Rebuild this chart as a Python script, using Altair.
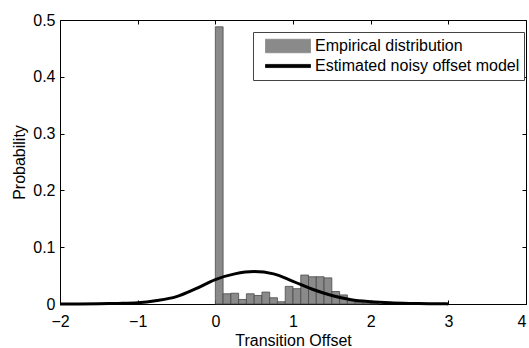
import altair as alt
import pandas as pd

# Histogram (empirical distribution), bin width 0.1
bin_start = [0.0, 0.1, 0.2, 0.3, 0.4, 0.5, 0.6, 0.7, 0.8, 0.9, 1.0,
             1.1, 1.2, 1.3, 1.4, 1.5, 1.6, 1.7, 1.8, 1.9, 2.0]
bin_prob = [0.488, 0.018, 0.019, 0.008, 0.018, 0.015, 0.021, 0.011, 0.004, 0.031, 0.027,
            0.051, 0.048, 0.048, 0.046, 0.022, 0.016, 0.006, 0.003, 0.002, 0.001]
bin_width = 0.1

# Estimated noisy offset model curve
curve_x = [-2.0, -1.75, -1.5, -1.25, -1.0, -0.75, -0.5, -0.25, 0.0, 0.25, 0.5,
           0.75, 1.0, 1.25, 1.5, 1.75, 2.0, 2.25, 2.5, 2.75, 3.0]
curve_y = [0.0, 0.0002, 0.0005, 0.001, 0.002, 0.006, 0.013, 0.027, 0.043, 0.053, 0.057,
           0.053, 0.040, 0.026, 0.015, 0.0075, 0.004, 0.002, 0.001, 0.0005, 0.0002]

x_ticks = [-2, -1, 0, 1, 2, 3, 4]
y_ticks = [0, 0.1, 0.2, 0.3, 0.4, 0.5]
series = ["Empirical distribution", "Estimated noisy offset model"]

bars = pd.DataFrame({
    "start": bin_start,
    "end": [s + bin_width for s in bin_start],
    "prob": bin_prob,
    "series": series[0],
})
curve = pd.DataFrame({"x": curve_x, "y": curve_y, "series": series[1]})

FONT = "Liberation Sans"
FS = 16
W, H = 466, 284
xscale = alt.Scale(domain=[-2, 4], nice=False, zero=False)
yscale = alt.Scale(domain=[0, 0.5], nice=False)

is_emp = "datum.value === 'Empirical distribution'"
color = alt.Color(
    "series:N",
    scale=alt.Scale(domain=series, range=["#8a8a8a", "#000000"]),
    legend=alt.Legend(
        title=None, orient="none", legendX=193, legendY=12,
        symbolType={"expr": f"{is_emp} ? 'M-1,-0.3H1V0.3H-1Z' : 'M-1,-0.07H1V0.07H-1Z'"},
        symbolSize=2025,
        symbolFillColor={"expr": f"{is_emp} ? '#8a8a8a' : 'black'"},
        symbolStrokeColor={"expr": f"{is_emp} ? '#4a4a4a' : 'black'"},
        symbolStrokeWidth=0.8,
        symbolOpacity=1,
        clipHeight=20, rowPadding=0, padding=4, symbolOffset=8,
        labelFont=FONT, labelFontSize=FS, labelColor="black", labelOffset=4,
        labelLimit=300,
        strokeColor="#444", fillColor="white",
    ),
)

bar_layer = alt.Chart(bars).mark_bar(stroke="#4a4a4a", strokeWidth=0.8).encode(
    x=alt.X("start:Q", scale=xscale, axis=alt.Axis(
        orient="bottom", values=x_ticks, ticks=False, tickSize=0, domain=False,
        labelFlush=False, labelOverlap=False,
        labelAlign={"expr": "datum.value == 4 ? 'right' : 'center'"},
        labelPadding=9, labelFont=FONT, labelFontSize=FS, labelColor="black",
        title="Transition Offset", titleFont=FONT, titleFontSize=FS,
        titleFontWeight="normal", titleColor="black",
        titleY=41, titleBaseline="alphabetic")),
    x2="end:Q",
    y=alt.Y("prob:Q", scale=yscale, axis=alt.Axis(
        orient="left", values=y_ticks, format="~g", ticks=False, tickSize=0,
        domain=False, labelPadding=5, labelFont=FONT, labelFontSize=FS,
        labelColor="black", title="Probability", titleFont=FONT,
        titleFontSize=FS, titleFontWeight="normal", titleColor="black",
        titleX=-36, titleY=142, titleBaseline="alphabetic", titleAngle=-90)),
    y2=alt.datum(0),
    color=color,
)

line_layer = alt.Chart(curve).mark_line(strokeWidth=3, interpolate="monotone").encode(
    x=alt.X("x:Q", scale=xscale, axis=alt.Axis(
        orient="top", offset=-H, values=x_ticks, labels=False, domain=False,
        ticks=True, tickSize=4, tickColor="black", title=None)),
    y=alt.Y("y:Q", scale=yscale, axis=alt.Axis(
        orient="right", offset=-W, values=y_ticks, labels=False, domain=False,
        ticks=True, tickSize=4, tickColor="black", title=None)),
    color=color,
)

mirror_layer = alt.Chart(curve).mark_line(opacity=0).encode(
    x=alt.X("x:Q", scale=xscale, axis=alt.Axis(
        orient="bottom", offset=-H, values=x_ticks, labels=False, domain=False,
        ticks=True, tickSize=4, tickColor="black", title=None)),
    y=alt.Y("y:Q", scale=yscale, axis=alt.Axis(
        orient="left", offset=-W, values=y_ticks, labels=False, domain=False,
        ticks=True, tickSize=4, tickColor="black", title=None)),
)

chart = alt.layer(bar_layer, line_layer, mirror_layer).resolve_axis(
    x="independent", y="independent"
).properties(
    width=W, height=H,
    padding={"left": 60, "top": 20, "right": 3, "bottom": 44},
    autosize=alt.AutoSizeParams(type="none"),
    background="white",
).configure_view(stroke="black", strokeWidth=1).configure_axis(grid=False)

chart.save("out.html", embed_options={"renderer": "svg", "actions": False})
